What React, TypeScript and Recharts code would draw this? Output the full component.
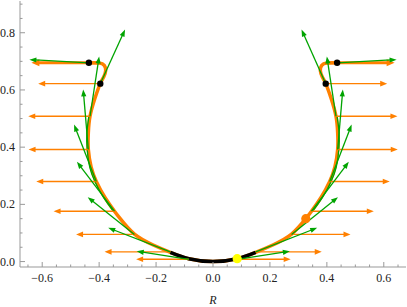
import React from 'react';
import { ComposedChart, XAxis, YAxis, Line, ReferenceLine, ReferenceDot } from 'recharts';

const ORANGE = '#ff8000';
const GREEN = '#00a400';
const AXIS = '#999999';
const FONT = '"Liberation Serif", "DejaVu Serif", serif';

// tick values
const xMajor = [-0.6, -0.4, -0.2, 0, 0.2, 0.4, 0.6];
const xTicks = [-0.65, -0.6, -0.55, -0.5, -0.45, -0.4, -0.35, -0.3, -0.25, -0.2, -0.15, -0.1, -0.05, 0,
  0.05, 0.1, 0.15, 0.2, 0.25, 0.3, 0.35, 0.4, 0.45, 0.5, 0.55, 0.6, 0.65];
const yMajor = [0, 0.2, 0.4, 0.6, 0.8];
const yTicks = [0, 0.05, 0.1, 0.15, 0.2, 0.25, 0.3, 0.35, 0.4, 0.45, 0.5, 0.55, 0.6, 0.65, 0.7, 0.75, 0.8, 0.85, 0.9];

// orange profile curve (left cap -> bottom -> right cap)
const orangeCurveX = [-0.44, -0.4, -0.382, -0.377, -0.384, -0.396, -0.415, -0.432, -0.438, -0.438, -0.428, -0.41,
  -0.38, -0.346, -0.326, -0.276, -0.21, -0.15, -0.085, 0, 0.085, 0.15, 0.21, 0.276, 0.326, 0.346, 0.38, 0.41,
  0.428, 0.438, 0.438, 0.432, 0.415, 0.396, 0.384, 0.377, 0.382, 0.4, 0.44];
const orangeCurveY = [0.695, 0.694, 0.686, 0.668, 0.645, 0.622, 0.57, 0.508, 0.45, 0.392, 0.33, 0.28,
  0.225, 0.176, 0.15, 0.096, 0.058, 0.032, 0.01, 0, 0.01, 0.032, 0.058, 0.096, 0.15, 0.176, 0.225, 0.28,
  0.33, 0.392, 0.45, 0.508, 0.57, 0.622, 0.645, 0.668, 0.686, 0.694, 0.695];

// thin green curve pieces
const greenLeftX = [-0.436, -0.443, -0.442, -0.433, -0.415, -0.385, -0.35];
const greenRightX = [0.436, 0.443, 0.442, 0.433, 0.415, 0.385, 0.35];
const greenSideY = [0.508, 0.45, 0.392, 0.33, 0.28, 0.225, 0.176];

// black bottom segment
const blackCurveX = [-0.15, -0.085, 0, 0.085, 0.15];
const blackCurveY = [0.032, 0.01, 0, 0.01, 0.032];

// arrow tails on the curve
const leftTailX = [-0.085, -0.15, -0.276, -0.346, -0.41, -0.438, -0.432, -0.396];
const rightTailX = [0.085, 0.15, 0.276, 0.346, 0.41, 0.438, 0.432, 0.396];
const tailY = [0.008, 0.034, 0.095, 0.176, 0.28, 0.392, 0.508, 0.622];
// orange horizontal arrow tips
const leftOrangeTipX = [-0.27, -0.381, -0.481, -0.56, -0.621, -0.648, -0.649, -0.614];
const rightOrangeTipX = [0.273, 0.382, 0.483, 0.565, 0.621, 0.649, 0.648, 0.612];
// green arrow tips
const leftGreenTipX = [-0.268, -0.368, -0.44, -0.478, -0.488, -0.456, -0.4, -0.309];
const rightGreenTipX = [0.27, 0.366, 0.439, 0.477, 0.487, 0.456, 0.4, 0.311];
const greenTipY = [0.036, 0.118, 0.225, 0.349, 0.479, 0.602, 0.717, 0.811];

// top cap arrows
const capOrangeTailX = [-0.4, 0.4];
const capOrangeTipX = [-0.638, 0.638];
const capOrangeY = 0.695;
const capGreenTailX = [-0.436, 0.436];
const capGreenTipX = [-0.645, 0.645];
const capGreenTipY = 0.706;

// markers
const blackDotX = [-0.396, -0.436, 0.396, 0.436];
const blackDotY = [0.622, 0.695, 0.622, 0.695];
const orangeDot = { x: 0.326, y: 0.15 };
const yellowDot = { x: 0.085, y: 0.01 };

const toPts = (xs: number[], ys: number[]) => xs.map((x, i) => ({ x, y: ys[i] }));

const fmt = (v: number) => (v < -1e-9 ? '\u2212' : '') + Math.abs(v).toFixed(1);
const isMajor = (v: number, majors: number[]) => majors.some(m => Math.abs(m - v) < 1e-6);

const textStyle = { fontFamily: FONT, fontSize: 12 };

const BottomTick = (props: any) => {
  const { x, y, payload } = props;
  const major = isMajor(payload.value, xMajor);
  return (
    <g>
      <line x1={x} y1={y} x2={x} y2={y - (major ? 5 : 2.5)} stroke={AXIS} />
      {major && (
        <text x={x} y={y + 15} textAnchor="middle" style={textStyle} fill="#222">{fmt(payload.value)}</text>
      )}
    </g>
  );
};

const TopTick = (props: any) => {
  const { x, y, payload } = props;
  const major = isMajor(payload.value, xMajor);
  return <line x1={x} y1={y} x2={x} y2={y + (major ? 5 : 2.5)} stroke={AXIS} />;
};

const LeftTick = (props: any) => {
  const { x, y, payload } = props;
  const major = isMajor(payload.value, yMajor);
  return (
    <g>
      <line x1={x} y1={y} x2={x + (major ? 5 : 2.5)} y2={y} stroke={AXIS} />
      {major && (
        <text x={x - 5} y={y + 4} textAnchor="end" style={textStyle} fill="#222">{fmt(payload.value)}</text>
      )}
    </g>
  );
};

const RightTick = (props: any) => {
  const { x, y, payload } = props;
  const major = isMajor(payload.value, yMajor);
  return <line x1={x} y1={y} x2={x - (major ? 5 : 2.5)} y2={y} stroke={AXIS} />;
};

const AxisLabel = (props: any) => {
  const { viewBox } = props;
  const cx = viewBox.x + viewBox.width / 2;
  return (
    <text x={cx} y={304} textAnchor="middle" style={{ ...textStyle, fontStyle: 'italic' }} fill="#222">R</text>
  );
};

const arrowShape = (color: string, width: number, hl: number, hw: number) => (p: any) => {
  const { x1, y1, x2, y2 } = p;
  const dx = x2 - x1;
  const dy = y2 - y1;
  const len = Math.hypot(dx, dy) || 1;
  const ux = dx / len;
  const uy = dy / len;
  const bx = x2 - ux * hl;
  const by = y2 - uy * hl;
  return (
    <g>
      <line x1={x1} y1={y1} x2={bx + ux} y2={by + uy} stroke={color} strokeWidth={width} />
      <polygon
        points={`${x2},${y2} ${bx - uy * hw},${by + ux * hw} ${bx + uy * hw},${by - ux * hw}`}
        fill={color}
      />
    </g>
  );
};

type Seg = { x1: number; y1: number; x2: number; y2: number };

const orangeArrows: Seg[] = [
  ...leftTailX.map((x, i) => ({ x1: x, y1: tailY[i], x2: leftOrangeTipX[i], y2: tailY[i] })),
  ...rightTailX.map((x, i) => ({ x1: x, y1: tailY[i], x2: rightOrangeTipX[i], y2: tailY[i] })),
];
const greenArrows: Seg[] = [
  ...leftTailX.map((x, i) => ({ x1: x, y1: tailY[i], x2: leftGreenTipX[i], y2: greenTipY[i] })),
  ...rightTailX.map((x, i) => ({ x1: x, y1: tailY[i], x2: rightGreenTipX[i], y2: greenTipY[i] })),
];
const capOrange: Seg[] = capOrangeTailX.map((x, i) => ({ x1: x, y1: capOrangeY, x2: capOrangeTipX[i], y2: capOrangeY }));
const capGreen: Seg[] = capGreenTailX.map((x, i) => ({ x1: x, y1: capOrangeY, x2: capGreenTipX[i], y2: capGreenTipY }));

const IDS = { xAxisId: 'b', yAxisId: 'l' };

const App: React.FC = () => {
  return (
    <div style={{ position: 'absolute', left: 0, top: 0, width: 407, height: 307, background: '#fff' }}>
      <ComposedChart width={407} height={307} margin={{ top: 1, right: 1, bottom: 0, left: 0 }}>
        <XAxis
          xAxisId="b"
          type="number"
          dataKey="x"
          domain={[-0.678, 0.678]}
          allowDataOverflow
          ticks={xTicks}
          interval={0}
          tickSize={0}
          tickMargin={0}
          tickLine={false}
          tick={<BottomTick />}
          axisLine={{ stroke: AXIS }}
          height={40}
          label={<AxisLabel />}
        />
        <XAxis
          xAxisId="t"
          orientation="top"
          type="number"
          domain={[-0.678, 0.678]}
          allowDataOverflow
          ticks={xTicks}
          interval={0}
          tickSize={0}
          tickMargin={0}
          tickLine={false}
          tick={<TopTick />}
          axisLine={{ stroke: AXIS }}
          height={0}
        />
        <YAxis
          yAxisId="l"
          type="number"
          dataKey="y"
          domain={[-0.019, 0.911]}
          allowDataOverflow
          ticks={yTicks}
          interval={0}
          tickSize={0}
          tickMargin={0}
          tickLine={false}
          tick={<LeftTick />}
          axisLine={{ stroke: AXIS }}
          width={20}
        />
        <YAxis
          yAxisId="r"
          orientation="right"
          type="number"
          domain={[-0.019, 0.911]}
          allowDataOverflow
          ticks={yTicks}
          interval={0}
          tickSize={0}
          tickMargin={0}
          tickLine={false}
          tick={<RightTick />}
          axisLine={{ stroke: AXIS }}
          width={0}
        />

        <Line {...IDS} data={toPts(orangeCurveX, orangeCurveY)} dataKey="y" type="natural" stroke={ORANGE}
          strokeWidth={3.5} dot={false} activeDot={false} isAnimationActive={false} />
        <Line {...IDS} data={toPts(greenLeftX, greenSideY)} dataKey="y" type="natural" stroke={GREEN}
          strokeWidth={1.3} dot={false} activeDot={false} isAnimationActive={false} />
        <Line {...IDS} data={toPts(greenRightX, greenSideY)} dataKey="y" type="natural" stroke={GREEN}
          strokeWidth={1.3} dot={false} activeDot={false} isAnimationActive={false} />
        <Line {...IDS} data={toPts(blackCurveX, blackCurveY)} dataKey="y" type="natural" stroke="#000"
          strokeWidth={3.5} dot={false} activeDot={false} isAnimationActive={false} />

        {orangeArrows.map((s, i) => (
          <ReferenceLine key={`o${i}`} {...IDS} segment={[{ x: s.x1, y: s.y1 }, { x: s.x2, y: s.y2 }]}
            stroke={ORANGE} shape={arrowShape(ORANGE, 1.4, 7, 2.8)} ifOverflow="visible" />
        ))}
        {capOrange.map((s, i) => (
          <ReferenceLine key={`co${i}`} {...IDS} segment={[{ x: s.x1, y: s.y1 }, { x: s.x2, y: s.y2 }]}
            stroke={ORANGE} shape={arrowShape(ORANGE, 3, 8, 3.5)} ifOverflow="visible" />
        ))}
        {greenArrows.map((s, i) => (
          <ReferenceLine key={`g${i}`} {...IDS} segment={[{ x: s.x1, y: s.y1 }, { x: s.x2, y: s.y2 }]}
            stroke={GREEN} shape={arrowShape(GREEN, 1.3, 7, 2.6)} ifOverflow="visible" />
        ))}
        {capGreen.map((s, i) => (
          <ReferenceLine key={`cg${i}`} {...IDS} segment={[{ x: s.x1, y: s.y1 }, { x: s.x2, y: s.y2 }]}
            stroke={GREEN} shape={arrowShape(GREEN, 1.3, 7, 2.6)} ifOverflow="visible" />
        ))}

        {blackDotX.map((x, i) => (
          <ReferenceDot key={`bd${i}`} {...IDS} x={x} y={blackDotY[i]} r={3.2} fill="#000" stroke="none" ifOverflow="visible" />
        ))}
        <ReferenceDot {...IDS} x={orangeDot.x} y={orangeDot.y} r={4.6} fill={ORANGE} stroke="none" />
        <ReferenceDot {...IDS} x={yellowDot.x} y={yellowDot.y} r={4.6} fill="#ffff00" stroke="none" />
      </ComposedChart>
    </div>
  );
};

export default App;
